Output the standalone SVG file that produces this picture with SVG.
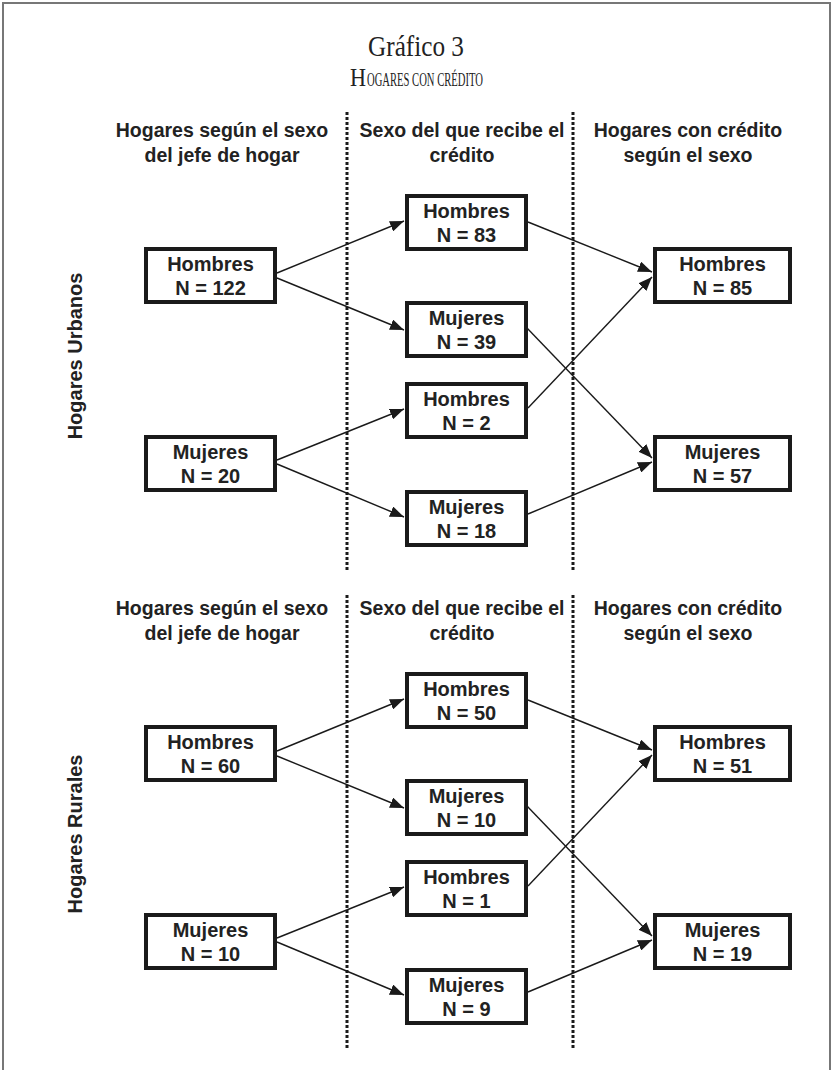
<svg xmlns="http://www.w3.org/2000/svg" width="833" height="1070" viewBox="0 0 833 1070">
<defs>
<marker id="ah" markerUnits="userSpaceOnUse" markerWidth="15" markerHeight="11" refX="14" refY="5.5" orient="auto">
<path d="M0,0 L14,5.5 L0,11 z" fill="#1a1a1a"/>
</marker>
<style>
.box{fill:#fff;stroke:#1a1a1a;stroke-width:4}
.bt{font-family:"Liberation Sans",Arial,sans-serif;font-weight:bold;font-size:20px;fill:#222;text-anchor:middle}
.hd{font-family:"Liberation Sans",Arial,sans-serif;font-weight:bold;font-size:19.5px;fill:#222;text-anchor:middle}
.vl{font-family:"Liberation Sans",Arial,sans-serif;font-weight:bold;font-size:20px;fill:#222;text-anchor:middle}
.dot{stroke:#1a1a1a;stroke-width:3;stroke-dasharray:3 2;fill:none}
.cn{stroke:#1a1a1a;stroke-width:1.4;fill:none;marker-end:url(#ah)}
.ti{font-family:"Liberation Serif","Times New Roman",serif;fill:#222}
</style>
</defs>
<rect x="0" y="0" width="833" height="1070" fill="#fff"/>
<rect x="3" y="3" width="827" height="1080" fill="none" stroke="#777" stroke-width="2"/>
<g id="title">
<text class="ti" x="416" y="56" font-size="30" text-anchor="middle" textLength="96" lengthAdjust="spacingAndGlyphs">Gráfico 3</text>
<text class="ti" x="350" y="86" font-size="25" textLength="16" lengthAdjust="spacingAndGlyphs">H</text>
<text class="ti" x="367" y="86" font-size="18.5" textLength="116" lengthAdjust="spacingAndGlyphs">OGARES CON CRÉDITO</text>
</g>
<g id="dividers">
<line class="dot" x1="347" y1="112" x2="347" y2="572"/>
<line class="dot" x1="573" y1="112" x2="573" y2="572"/>
<line class="dot" x1="347" y1="595" x2="347" y2="1050"/>
<line class="dot" x1="573" y1="595" x2="573" y2="1050"/>
</g>
<g id="headers-urban">
<text class="hd" x="222" y="137">Hogares según el sexo</text>
<text class="hd" x="222" y="162">del jefe de hogar</text>
<text class="hd" x="462" y="137">Sexo del que recibe el</text>
<text class="hd" x="462" y="162">crédito</text>
<text class="hd" x="688" y="137">Hogares con crédito</text>
<text class="hd" x="688" y="162">según el sexo</text>
</g>
<g id="headers-rural">
<text class="hd" x="222" y="615">Hogares según el sexo</text>
<text class="hd" x="222" y="640">del jefe de hogar</text>
<text class="hd" x="462" y="615">Sexo del que recibe el</text>
<text class="hd" x="462" y="640">crédito</text>
<text class="hd" x="688" y="615">Hogares con crédito</text>
<text class="hd" x="688" y="640">según el sexo</text>
</g>
<g id="label-urbanos"><text class="vl" transform="translate(82,356) rotate(-90)">Hogares Urbanos</text></g>
<g id="label-rurales"><text class="vl" transform="translate(82,834) rotate(-90)">Hogares Rurales</text></g>
<g id="connectors">
<line class="cn" x1="277" y1="273" x2="404" y2="221"/>
<line class="cn" x1="277" y1="278" x2="404" y2="330"/>
<line class="cn" x1="277" y1="460" x2="404" y2="409"/>
<line class="cn" x1="277" y1="464" x2="404" y2="517"/>
<line class="cn" x1="528" y1="222" x2="652" y2="272"/>
<line class="cn" x1="528" y1="408" x2="652" y2="277"/>
<line class="cn" x1="526" y1="327" x2="652" y2="458"/>
<line class="cn" x1="528" y1="514" x2="652" y2="462"/>
<line class="cn" x1="277" y1="751" x2="404" y2="699"/>
<line class="cn" x1="277" y1="756" x2="404" y2="808"/>
<line class="cn" x1="277" y1="938" x2="404" y2="887"/>
<line class="cn" x1="277" y1="942" x2="404" y2="995"/>
<line class="cn" x1="528" y1="700" x2="652" y2="750"/>
<line class="cn" x1="528" y1="886" x2="652" y2="755"/>
<line class="cn" x1="526" y1="805" x2="652" y2="936"/>
<line class="cn" x1="528" y1="992" x2="652" y2="940"/>
</g>
<g id="u-h122"><rect class="box" x="146" y="249" width="129" height="53"/><text class="bt" x="210.5" y="271">Hombres</text><text class="bt" x="210.5" y="295">N = 122</text></g>
<g id="u-m20"><rect class="box" x="146" y="437" width="129" height="53"/><text class="bt" x="210.5" y="459">Mujeres</text><text class="bt" x="210.5" y="483">N = 20</text></g>
<g id="u-h83"><rect class="box" x="407" y="196" width="119" height="53"/><text class="bt" x="466.5" y="218">Hombres</text><text class="bt" x="466.5" y="242">N = 83</text></g>
<g id="u-m39"><rect class="box" x="407" y="303" width="119" height="53"/><text class="bt" x="466.5" y="325">Mujeres</text><text class="bt" x="466.5" y="349">N = 39</text></g>
<g id="u-h2"><rect class="box" x="407" y="384" width="119" height="53"/><text class="bt" x="466.5" y="406">Hombres</text><text class="bt" x="466.5" y="430">N = 2</text></g>
<g id="u-m18"><rect class="box" x="407" y="492" width="119" height="53"/><text class="bt" x="466.5" y="514">Mujeres</text><text class="bt" x="466.5" y="538">N = 18</text></g>
<g id="u-h85"><rect class="box" x="655" y="249" width="135" height="53"/><text class="bt" x="722.5" y="271">Hombres</text><text class="bt" x="722.5" y="295">N = 85</text></g>
<g id="u-m57"><rect class="box" x="655" y="437" width="135" height="53"/><text class="bt" x="722.5" y="459">Mujeres</text><text class="bt" x="722.5" y="483">N = 57</text></g>
<g id="r-h60"><rect class="box" x="146" y="727" width="129" height="53"/><text class="bt" x="210.5" y="749">Hombres</text><text class="bt" x="210.5" y="773">N = 60</text></g>
<g id="r-m10"><rect class="box" x="146" y="915" width="129" height="53"/><text class="bt" x="210.5" y="937">Mujeres</text><text class="bt" x="210.5" y="961">N = 10</text></g>
<g id="r-h50"><rect class="box" x="407" y="674" width="119" height="53"/><text class="bt" x="466.5" y="696">Hombres</text><text class="bt" x="466.5" y="720">N = 50</text></g>
<g id="r-m10b"><rect class="box" x="407" y="781" width="119" height="53"/><text class="bt" x="466.5" y="803">Mujeres</text><text class="bt" x="466.5" y="827">N = 10</text></g>
<g id="r-h1"><rect class="box" x="407" y="862" width="119" height="53"/><text class="bt" x="466.5" y="884">Hombres</text><text class="bt" x="466.5" y="908">N = 1</text></g>
<g id="r-m9"><rect class="box" x="407" y="970" width="119" height="53"/><text class="bt" x="466.5" y="992">Mujeres</text><text class="bt" x="466.5" y="1016">N = 9</text></g>
<g id="r-h51"><rect class="box" x="655" y="727" width="135" height="53"/><text class="bt" x="722.5" y="749">Hombres</text><text class="bt" x="722.5" y="773">N = 51</text></g>
<g id="r-m19"><rect class="box" x="655" y="915" width="135" height="53"/><text class="bt" x="722.5" y="937">Mujeres</text><text class="bt" x="722.5" y="961">N = 19</text></g>
</svg>
